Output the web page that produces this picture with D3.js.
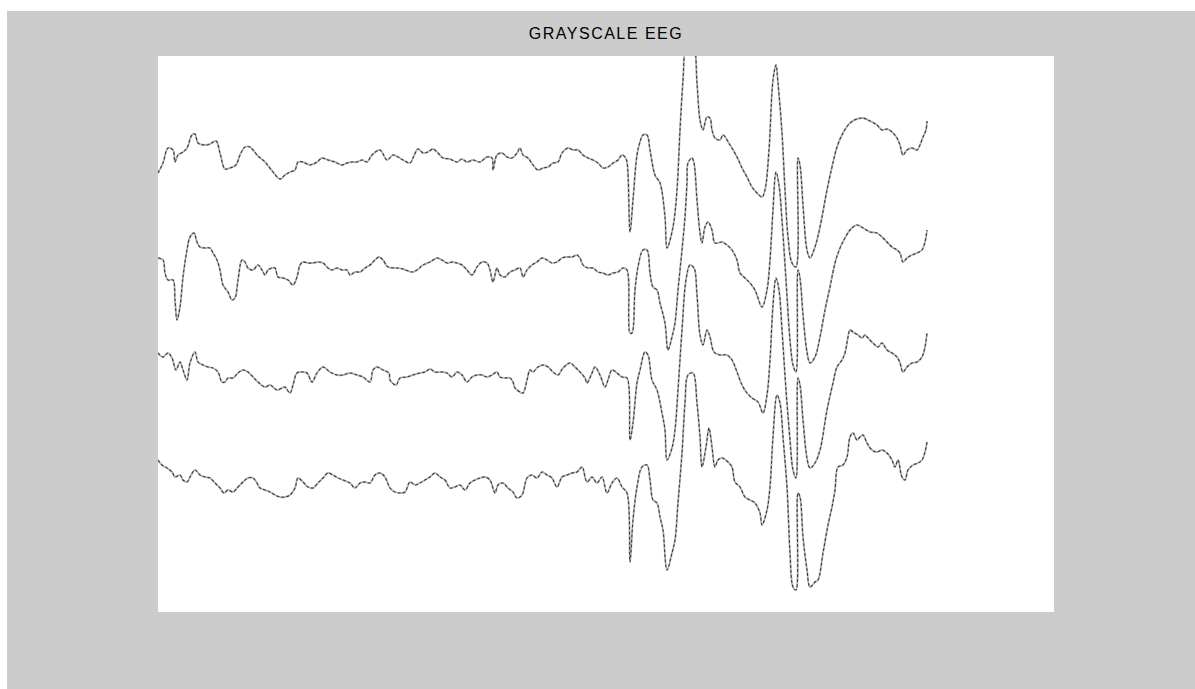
<!DOCTYPE html>
<html>
<head>
<meta charset="utf-8">
<script src="https://cdn.jsdelivr.net/npm/d3@7"></script>
<style>
  html, body { margin: 0; padding: 0; background: #ffffff; }
  svg { display: block; }
</style>
</head>
<body>
<svg id="chart"></svg>
<script>
// samples are [t, amplitude]; t in image columns from the left edge
let titleText = 'GRAYSCALE EEG'

let ch1 = [[0,-13],[5,-3],[10,12],[15,10],[17,-2],[20,5],[25,8],[29,12],[34,25],[37,26],[40,17],[47,15],[52,16],[58,19],[62,7],[67,-9],[72,-8],[78,-5],[82,5],[87,13],[92,13],[95,10],[100,4],[107,-2],[115,-12],[122,-19],[127,-15],[132,-12],[137,-10],[140,-2],[145,-2],[152,-5],[159,-2],[164,2],[170,0],[177,-2],[184,-5],[189,-3],[194,-2],[199,-2],[204,0],[209,-2],[214,5],[222,10],[229,0],[235,5],[240,3],[245,0],[252,-3],[255,2],[260,11],[265,7],[270,8],[275,11],[280,7],[285,2],[292,1],[299,-2],[304,1],[309,-2],[315,0],[322,-2],[329,3],[334,2],[335,-10],[339,5],[344,7],[349,3],[354,2],[359,7],[362,12],[365,5],[370,2],[375,-5],[380,-10],[385,-8],[390,-7],[395,-3],[400,-2],[404,7],[410,12],[415,10],[420,10],[425,5],[430,2],[435,0],[440,-3],[445,-8],[450,-7],[455,-3],[460,0],[464,5],[467,3],[469,-2],[472,-72],[475,-40],[479,5],[482,18],[485,25],[489,25],[492,10],[497,-15],[502,-23],[507,-57],[509,-88],[515,-67],[519,-30],[522,30],[525,80],[528,115],[532,120],[536,115],[539,77],[542,40],[545,30],[549,43],[552,42],[554,30],[557,22],[562,20],[565,25],[572,15],[579,3],[584,-8],[589,-17],[594,-27],[599,-33],[604,-37],[607,-30],[611,10],[615,80],[618,95],[620,77],[624,27],[627,-30],[630,-77],[634,-103],[638,-107],[640,2],[642,-5],[645,-45],[649,-90],[652,-98],[657,-87],[662,-67],[669,-30],[674,-7],[679,13],[685,27],[692,37],[699,41],[705,42],[712,39],[719,35],[724,30],[729,31],[734,28],[739,22],[742,15],[745,5],[749,10],[754,12],[759,10],[762,15],[765,23],[768,30],[769,39]]

let ch2 = [[0,9],[5,7],[7,-6],[10,-13],[15,-13],[17,-33],[19,-53],[22,-40],[25,-10],[29,17],[32,30],[36,34],[39,25],[42,20],[47,19],[52,19],[55,14],[59,7],[62,-3],[65,-18],[70,-25],[74,-33],[77,-31],[80,-13],[84,7],[87,5],[90,-1],[95,-3],[100,2],[104,-3],[107,-8],[110,-3],[114,-1],[117,-1],[120,-10],[125,-11],[130,-13],[135,-18],[139,-10],[142,2],[145,5],[150,4],[155,4],[160,5],[165,4],[170,-1],[174,-3],[179,-1],[184,-3],[189,-3],[192,-8],[197,-5],[202,-5],[207,-1],[212,2],[217,7],[221,10],[225,7],[230,0],[239,-1],[245,-2],[254,-5],[259,-3],[265,2],[272,5],[279,9],[284,7],[289,4],[294,5],[299,4],[304,2],[309,-3],[314,-8],[319,0],[324,5],[329,4],[332,-3],[335,-15],[339,-1],[342,-8],[347,-10],[352,-5],[357,-3],[362,-1],[365,-10],[369,-3],[374,2],[379,5],[384,9],[389,7],[394,4],[399,5],[404,9],[409,10],[414,10],[419,12],[422,9],[425,2],[430,-1],[435,-1],[440,-5],[445,-6],[450,-8],[455,-6],[460,-5],[465,-1],[469,-3],[472,-66],[474,-66],[477,-23],[480,0],[485,17],[489,17],[492,-6],[495,-20],[499,-23],[502,-36],[507,-56],[510,-83],[514,-70],[517,-56],[520,-23],[524,17],[527,50],[529,84],[530,104],[534,109],[536,104],[539,67],[542,34],[544,24],[547,40],[550,45],[554,37],[557,24],[564,25],[569,22],[574,17],[579,7],[582,-6],[587,-11],[592,-16],[597,-23],[604,-40],[609,-23],[612,7],[615,57],[618,95],[621,82],[624,47],[628,-13],[632,-73],[635,-98],[638,-105],[640,-3],[642,-11],[645,-48],[649,-85],[652,-96],[657,-90],[662,-70],[667,-43],[672,-20],[677,4],[682,19],[687,29],[692,37],[699,42],[705,39],[712,35],[719,34],[724,30],[729,25],[734,20],[739,17],[742,14],[745,5],[749,9],[754,12],[759,14],[764,17],[767,25],[769,37]]

let ch3 = [[0,22],[5,18],[10,22],[14,17],[18,5],[22,13],[25,5],[29,-5],[32,12],[37,23],[40,13],[45,10],[50,8],[55,7],[60,3],[64,-7],[67,-7],[70,-3],[75,-3],[80,2],[85,5],[90,3],[95,-2],[100,-7],[107,-12],[112,-10],[119,-15],[124,-13],[127,-12],[132,-18],[135,-10],[139,2],[144,3],[149,2],[154,-7],[159,2],[165,8],[172,3],[179,0],[185,0],[192,2],[199,0],[205,-2],[212,-7],[215,5],[219,8],[225,5],[231,2],[232,-5],[238,-10],[242,-3],[249,-2],[255,0],[262,2],[267,3],[272,6],[277,3],[284,3],[289,2],[294,-2],[299,3],[304,0],[309,-7],[314,-2],[319,0],[324,0],[329,-2],[334,0],[339,3],[342,-2],[347,-3],[352,-3],[355,-7],[357,-13],[362,-17],[365,-18],[369,-5],[372,5],[375,3],[380,8],[385,10],[390,8],[395,3],[400,0],[405,7],[412,12],[417,8],[422,3],[427,-3],[429,-8],[434,2],[437,8],[442,0],[447,-12],[450,-5],[454,5],[459,2],[464,-2],[469,-3],[472,-65],[475,-48],[479,-8],[482,5],[487,23],[490,20],[494,-5],[499,-15],[504,-38],[507,-55],[509,-85],[514,-73],[517,-55],[520,-15],[524,45],[528,95],[532,110],[536,107],[539,80],[542,40],[545,30],[549,45],[552,38],[556,23],[562,20],[569,20],[574,15],[579,3],[584,-10],[589,-18],[594,-23],[600,-27],[605,-38],[609,-20],[612,15],[615,70],[618,97],[621,85],[624,45],[628,-15],[632,-65],[635,-95],[638,-103],[640,-3],[642,-10],[645,-45],[649,-83],[652,-93],[657,-88],[662,-75],[669,-35],[675,-8],[679,8],[684,15],[687,22],[690,38],[692,45],[695,43],[700,40],[704,37],[707,40],[710,37],[715,32],[720,28],[724,32],[729,25],[734,22],[739,18],[742,12],[745,3],[749,8],[754,12],[759,13],[764,18],[767,28],[769,42]]

let ch4 = [[0,22],[4,17],[9,14],[14,10],[17,5],[22,7],[25,2],[29,0],[32,5],[37,12],[42,7],[47,5],[52,4],[57,-1],[62,-6],[66,-11],[70,-8],[75,-10],[80,-5],[85,0],[90,4],[95,4],[99,-1],[102,-6],[107,-8],[112,-10],[117,-13],[122,-15],[127,-15],[132,-13],[137,-6],[140,4],[145,0],[150,-5],[155,-6],[160,-1],[165,4],[170,9],[175,7],[180,4],[185,2],[192,-1],[197,-6],[202,-1],[207,0],[212,-1],[217,7],[222,9],[227,5],[232,-6],[237,-10],[242,-11],[247,-10],[252,0],[257,-3],[262,-1],[267,2],[272,5],[277,9],[282,5],[287,2],[292,-6],[297,-5],[302,-3],[307,-8],[312,-1],[317,2],[322,4],[327,5],[332,2],[337,-11],[340,-3],[345,-1],[350,-6],[355,-10],[359,-16],[364,-13],[369,4],[374,7],[379,4],[384,10],[389,7],[394,4],[399,-5],[404,5],[409,7],[414,9],[419,10],[424,15],[429,0],[434,5],[439,-1],[444,5],[449,-11],[454,-1],[459,4],[464,-5],[469,-11],[472,-80],[475,-38],[479,-5],[484,15],[489,17],[492,2],[495,-18],[499,-21],[502,-35],[505,-48],[509,-88],[514,-71],[517,-58],[520,-21],[524,29],[527,79],[530,107],[535,109],[539,79],[542,45],[544,15],[548,35],[551,54],[554,35],[557,15],[560,22],[564,24],[570,20],[574,15],[577,0],[582,-5],[587,-15],[592,-18],[597,-21],[602,-31],[604,-43],[609,-28],[612,-5],[615,45],[619,87],[622,79],[625,45],[629,-5],[632,-71],[635,-105],[638,-108],[640,-11],[642,-15],[645,-55],[649,-88],[652,-105],[657,-100],[660,-98],[665,-71],[670,-43],[674,-25],[677,-8],[680,15],[685,17],[689,25],[692,45],[695,49],[699,42],[702,45],[705,47],[709,39],[714,32],[719,30],[724,32],[729,29],[734,22],[737,15],[740,22],[744,5],[747,2],[750,12],[755,17],[760,19],[764,22],[767,30],[769,40]]

let channels = [ch1, ch2, ch3, ch4]
let channelOffsets = [452, 345, 237, 130]   // baseline height of each channel above the image bottom

let W = 1195, H = 689
let plot = { left: 158, top: 56, right: 1054, bottom: 612 }

let svg = d3.select('#chart').attr('width', W).attr('height', H)

// figure background
svg.append('rect')
    .attr('x', 7).attr('y', 11)
    .attr('width', W - 7).attr('height', H - 11)
    .attr('fill', '#cccccc')

svg.append('text')
    .attr('x', (plot.left + plot.right) / 2)
    .attr('y', 39)
    .attr('text-anchor', 'middle')
    .attr('font-family', 'Liberation Sans, Arial, sans-serif')
    .attr('font-size', 16)
    .attr('letter-spacing', 1.5)
    .attr('fill', '#000')
    .text(titleText)

let x = d3.scaleLinear().domain([0, 896]).range([plot.left, plot.right])
let y = d3.scaleLinear().domain([0, 556]).range([plot.bottom, plot.top])

svg.append('clipPath').attr('id', 'clip')
    .append('rect')
    .attr('x', plot.left).attr('y', plot.top)
    .attr('width', plot.right - plot.left).attr('height', plot.bottom - plot.top)

svg.append('rect')
    .attr('x', plot.left).attr('y', plot.top)
    .attr('width', plot.right - plot.left).attr('height', plot.bottom - plot.top)
    .attr('fill', '#ffffff')

let g = svg.append('g').attr('clip-path', 'url(#clip)')

channels.forEach((data, i) => {
    let line = d3.line()
        .curve(d3.curveCatmullRom.alpha(0.5))
        .x(d => x(d[0]))
        .y(d => y(channelOffsets[i] + d[1]))

    // soft grey body of the trace
    g.append('path')
        .datum(data)
        .attr('fill', 'none')
        .attr('stroke', '#b8b8b8')
        .attr('stroke-width', 1.9)
        .attr('stroke-linejoin', 'round')
        .attr('d', line)

    // darker broken core, like the scanned pixels
    g.append('path')
        .datum(data)
        .attr('fill', 'none')
        .attr('stroke', '#3c3c3c')
        .attr('stroke-width', 1.1)
        .attr('stroke-dasharray', '3,2')
        .attr('stroke-linejoin', 'round')
        .attr('d', line)
})
</script>
</body>
</html>
